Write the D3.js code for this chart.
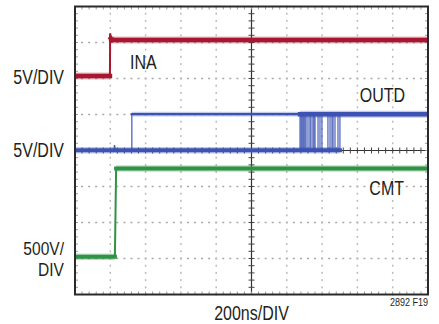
<!DOCTYPE html>
<html><head><meta charset="utf-8">
<script src="https://cdn.jsdelivr.net/npm/d3@7"></script>
<style>html,body{margin:0;padding:0;background:#fff;} svg{display:block}</style>
</head><body><svg id="c" width="439" height="324"></svg>
<script>
// ---- data ----
const timeDomainNs = [0, 2000];          // 10 div x 200ns
const divRange = [0, 8];                 // 8 vertical divisions
const channelNames = ["INA", "OUTD", "CMT"];
const channelOffsetDiv = [6.07, 4.01, 1.05];
const channelVoltsPerDiv = [5, 5, 500];
const channelColors = ["#a8172f", "#3c53b4", "#2f9345"];
const scaleLabels = [["5V/DIV"], ["5V/DIV"], ["500V/", "DIV"]];
const xAxisLabel = "200ns/DIV";
const figureId = "2892 F19";

const inaTime  = [0, 198, 199, 203, 210, 2000];
const inaVolts = [0, 0, 5.9, 5.2, 5, 5];

const outdLowTime  = [0, 220, 224, 228, 1501];
const outdLowVolts = [0, 0, 0.7, 0, 0];
const outdHighEarlyTime = [322, 1275];
const outdHighLateTime  = [1275, 2000];
const outdHighVolts = 5;
const outdFirstEdge = 322;
const outdJitterEdges = [1275, 1281, 1286, 1292, 1297, 1303, 1309, 1320, 1331, 1337, 1348, 1354, 1360, 1377, 1388, 1399, 1433, 1445, 1456, 1462, 1473, 1490, 1501];

const cmtTime  = [0, 226, 233, 2000];
const cmtVolts = [0, 0, 1225, 1225];

// ---- layout ----
const L = 75, R = 428, T = 6.5, B = 294.5;
const svg = d3.select("#c");
const x = d3.scaleLinear().domain(timeDomainNs).range([L, R]);
const yDiv = d3.scaleLinear().domain(divRange).range([B, T]);
const yCh = (ch, v) => yDiv(channelOffsetDiv[ch] + v / channelVoltsPerDiv[ch]);

const majorT = d3.range(0, 2001, 200);
const majorD = d3.range(0, 8.001, 1);
const minorT = d3.range(0, 2001, 40);
const minorD = d3.range(0, 8.001, 0.2);

const grid = svg.append("g");
// dotted grid lines
majorD.filter(d => d > 0 && d < 8 && d !== 4).forEach(d => {
  grid.selectAll(null).data(minorT).enter().append("rect")
    .attr("x", t => x(t) - 1).attr("y", yDiv(d) - 0.75).attr("width", 2).attr("height", 1.5)
    .attr("fill", "#a8a8a8");
});
majorT.filter(t => t > 0 && t < 2000 && t !== 1000).forEach(t => {
  grid.selectAll(null).data(minorD).enter().append("rect")
    .attr("x", x(t) - 0.75).attr("y", d => yDiv(d) - 1).attr("width", 1.5).attr("height", 2)
    .attr("fill", "#bcbcbc");
});
// center cross lines with ticks
grid.append("line").attr("x1", L).attr("x2", R).attr("y1", yDiv(4)).attr("y2", yDiv(4))
  .attr("stroke", "#333").attr("stroke-width", 1.2);
grid.append("line").attr("x1", x(1000)).attr("x2", x(1000)).attr("y1", T).attr("y2", B)
  .attr("stroke", "#333").attr("stroke-width", 1.2);
grid.selectAll(null).data(minorT).enter().append("line")
  .attr("x1", t => x(t)).attr("x2", t => x(t)).attr("y1", yDiv(4) - 3).attr("y2", yDiv(4) + 3)
  .attr("stroke", "#444").attr("stroke-width", 1);
grid.selectAll(null).data(minorD).enter().append("line")
  .attr("y1", d => yDiv(d)).attr("y2", d => yDiv(d)).attr("x1", x(1000) - 3).attr("x2", x(1000) + 3)
  .attr("stroke", "#444").attr("stroke-width", 1);
// edge ticks
grid.selectAll(null).data(minorT).enter().append("line")
  .attr("x1", t => x(t)).attr("x2", t => x(t)).attr("y1", T).attr("y2", T + 3)
  .attr("stroke", "#999").attr("stroke-width", 1);
grid.selectAll(null).data(minorT).enter().append("line")
  .attr("x1", t => x(t)).attr("x2", t => x(t)).attr("y1", B - 3).attr("y2", B)
  .attr("stroke", "#999").attr("stroke-width", 1);
grid.selectAll(null).data(minorD).enter().append("line")
  .attr("y1", d => yDiv(d)).attr("y2", d => yDiv(d)).attr("x1", L).attr("x2", L + 3)
  .attr("stroke", "#999").attr("stroke-width", 1);
grid.selectAll(null).data(minorD).enter().append("line")
  .attr("y1", d => yDiv(d)).attr("y2", d => yDiv(d)).attr("x1", R - 3).attr("x2", R)
  .attr("stroke", "#999").attr("stroke-width", 1);

// ---- traces ----
svg.append("clipPath").attr("id", "clip").append("rect")
  .attr("x", L).attr("y", T).attr("width", R - L).attr("height", B - T);
const tr = svg.append("g").attr("clip-path", "url(#clip)");

// draws a step trace: level segments thick, fast transitions thin
function trace(ch, times, volts, w, edgeW) {
  const pts = times.map((t, i) => [t, volts[i]]);
  const segs = d3.pairs(pts);
  const col = channelColors[ch];
  segs.forEach(([a, b]) => {
    const vertical = Math.abs(x(b[0]) - x(a[0])) < Math.abs(yCh(ch, b[1]) - yCh(ch, a[1])) * 0.6;
    const sw = vertical ? edgeW : w;
    if (!vertical) {
      tr.append("line").attr("x1", x(a[0])).attr("x2", x(b[0]))
        .attr("y1", yCh(ch, a[1])).attr("y2", yCh(ch, b[1]))
        .attr("stroke", col).attr("stroke-width", sw + 2.5).attr("stroke-opacity", 0.3);
    }
    tr.append("line").attr("x1", x(a[0])).attr("x2", x(b[0]))
      .attr("y1", yCh(ch, a[1])).attr("y2", yCh(ch, b[1]))
      .attr("stroke", col).attr("stroke-width", sw).attr("stroke-linecap", vertical ? "butt" : "square");
  });
}
function edge(ch, t, v0, v1, w, op) {
  tr.append("line").attr("x1", x(t)).attr("x2", x(t))
    .attr("y1", yCh(ch, v0)).attr("y2", yCh(ch, v1))
    .attr("stroke", channelColors[ch]).attr("stroke-width", w).attr("stroke-opacity", op);
}

// OUTD (blue)
trace(1, outdLowTime, outdLowVolts, 4, 1.2);
trace(1, outdHighEarlyTime, outdHighEarlyTime.map(() => outdHighVolts), 2.4, 1.2);
edge(1, outdFirstEdge, 0, outdHighVolts, 1.3, 0.9);
outdJitterEdges.forEach(t => edge(1, t, 0, outdHighVolts, 1.6, 0.7));
trace(1, outdHighLateTime, outdHighLateTime.map(() => outdHighVolts), 4.5, 1.2);
// CMT (green)
trace(2, cmtTime, cmtVolts, 4, 2);
// INA (red)
trace(0, inaTime, inaVolts, 4.5, 2);

// frame
svg.append("rect").attr("x", L).attr("y", T).attr("width", R - L).attr("height", B - T)
  .attr("fill", "none").attr("stroke", "#2a2a2a").attr("stroke-width", 2);

// ---- text ----
const FONT = "'Liberation Sans', Arial, sans-serif";
function label(lines, px, py, size, anchor, lh) {
  const t = svg.append("text").attr("transform", `translate(${px},${py}) scale(0.82,1)`)
    .attr("text-anchor", anchor).attr("font-family", FONT).attr("font-size", size)
    .attr("fill", "#231f20");
  [].concat(lines).forEach((s, i) => {
    t.append("tspan").attr("x", 0).attr("dy", i ? lh : 0).text(s);
  });
}
// scale labels at each channel's ground level
label(scaleLabels[0], 64, yCh(0, 0) + 8, 19.5, "end");
label(scaleLabels[1], 64, yCh(1, 0) + 7, 19.5, "end");
label(scaleLabels[2], 64, yCh(2, 0) - 2, 19, "end", 21.5);
// channel names
label(channelNames[0], 130, 69, 19.5, "start");
label(channelNames[1], 405, 102, 19.5, "end");
label(channelNames[2], 404, 195, 19.5, "end");
label(xAxisLabel, x(1000), 320, 19.5, "middle");
label(figureId, 428, 306, 11, "end");
</script></body></html>
